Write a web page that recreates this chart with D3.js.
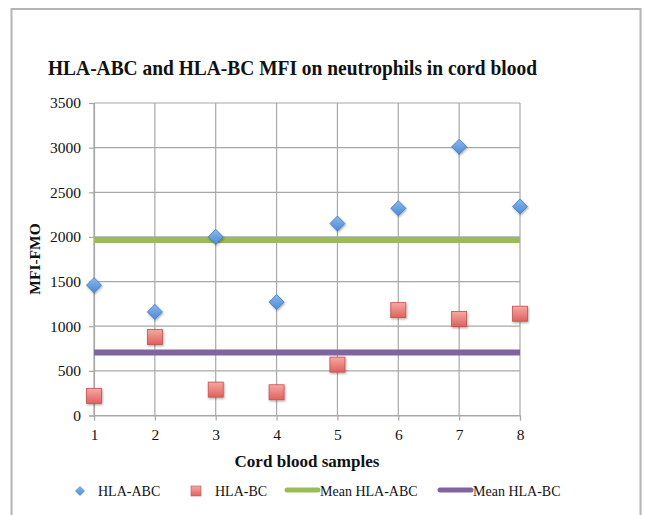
<!DOCTYPE html>
<html>
<head>
<meta charset="utf-8">
<script src="https://cdn.jsdelivr.net/npm/d3@7"></script>
<style>
  html, body { margin: 0; padding: 0; background: #fff; }
  svg { display: block; }
  text { font-family: "Liberation Serif", "DejaVu Serif", serif; fill: #111; }
</style>
</head>
<body>
<div id="chart"></div>
<script>
// Sample numbers along the x axis
const samples = [1, 2, 3, 4, 5, 6, 7, 8];
// MFI minus FMO for each cord blood sample
const hlaABC = [1460, 1160, 2000, 1270, 2150, 2320, 3010, 2340];
const hlaBC = [220, 880, 290, 260, 570, 1180, 1080, 1140];
// Group means drawn as horizontal lines
const meanABC = 1965;
const meanBC = 705;
const yTicks = [0, 500, 1000, 1500, 2000, 2500, 3000, 3500];
const legendLabels = ["HLA-ABC", "HLA-BC", "Mean HLA-ABC", "Mean HLA-BC"];

const W = 645, H = 515;
const svg = d3.select("#chart").append("svg").attr("width", W).attr("height", H);

const defs = svg.append("defs");
const gBlue = defs.append("linearGradient").attr("id", "gBlue").attr("x1", 0).attr("y1", 0).attr("x2", 0).attr("y2", 1);
gBlue.append("stop").attr("offset", "0%").attr("stop-color", "#8ab8ec");
gBlue.append("stop").attr("offset", "100%").attr("stop-color", "#4a8bd6");
const gRed = defs.append("linearGradient").attr("id", "gRed").attr("x1", 0).attr("y1", 0).attr("x2", 0).attr("y2", 1);
gRed.append("stop").attr("offset", "0%").attr("stop-color", "#f6a8a4");
gRed.append("stop").attr("offset", "100%").attr("stop-color", "#e0615c");
const shadow = defs.append("filter").attr("id", "shadow").attr("x", "-50%").attr("y", "-50%").attr("width", "200%").attr("height", "200%");
shadow.append("feDropShadow").attr("dx", 0.8).attr("dy", 1.2).attr("stdDeviation", 0.9)
  .attr("flood-color", "#000").attr("flood-opacity", 0.35);

// Outer chart frame
svg.append("rect").attr("x", 11.5).attr("y", 9).attr("width", 629).attr("height", 520)
  .attr("fill", "none").attr("stroke", "#b4b4b4").attr("stroke-width", 2);

// Title, set in a slightly condensed width
svg.append("text").attr("x", 48).attr("y", 75)
  .attr("font-size", 21).attr("font-weight", "bold")
  .attr("textLength", 489).attr("lengthAdjust", "spacingAndGlyphs")
  .text("HLA-ABC and HLA-BC MFI on neutrophils in cord blood");

const x = d3.scaleLinear().domain([1, 8]).range([94, 520]);
const y = d3.scaleLinear().domain([0, 3500]).range([415.5, 103]);

const grid = svg.append("g").attr("stroke", "#a8a8a8").attr("stroke-width", 1.2);
grid.selectAll("line.h").data(yTicks).join("line").attr("class", "h")
  .attr("x1", x(1)).attr("x2", x(8)).attr("y1", d => y(d)).attr("y2", d => y(d));
grid.selectAll("line.v").data(samples).join("line").attr("class", "v")
  .attr("y1", y(0)).attr("y2", y(3500)).attr("x1", d => x(d)).attr("x2", d => x(d));

// Axes
const yAxis = svg.append("g").attr("transform", `translate(${x(1)},0)`)
  .call(d3.axisLeft(y).tickValues(yTicks).tickSize(5).tickPadding(8).tickFormat(d3.format("d")));
const xAxis = svg.append("g").attr("transform", `translate(0,${y(0)})`)
  .call(d3.axisBottom(x).tickValues(samples).tickSize(5).tickPadding(8).tickFormat(d3.format("d")));
[yAxis, xAxis].forEach(a => {
  a.select(".domain").attr("stroke", "#a8a8a8").attr("stroke-width", 1.2);
  a.selectAll(".tick line").attr("stroke", "#a8a8a8").attr("stroke-width", 1.2);
  a.selectAll(".tick text").attr("font-family", "Liberation Serif, serif").attr("font-size", 15.5).attr("fill", "#111");
});

// Axis titles
svg.append("text").attr("transform", "translate(40,259) rotate(-90)")
  .attr("text-anchor", "middle").attr("font-size", 15.5).attr("font-weight", "bold").text("MFI-FMO");
svg.append("text").attr("x", 307).attr("y", 467)
  .attr("text-anchor", "middle").attr("font-size", 17).attr("font-weight", "bold")
  .attr("textLength", 145).attr("lengthAdjust", "spacingAndGlyphs").text("Cord blood samples");

// Mean lines
svg.append("line").attr("x1", x(1)).attr("x2", x(8)).attr("y1", y(meanABC)).attr("y2", y(meanABC))
  .attr("stroke", "#9bbb59").attr("stroke-width", 6);
svg.append("line").attr("x1", x(1)).attr("x2", x(8)).attr("y1", y(meanBC)).attr("y2", y(meanBC))
  .attr("stroke", "#8064a2").attr("stroke-width", 6);

// Markers
const diamond = s => `M0,${-s}L${s},0L0,${s}L${-s},0Z`;
svg.append("g").selectAll("path").data(samples).join("path")
  .attr("transform", (d, i) => `translate(${x(d)},${y(hlaABC[i])})`)
  .attr("d", diamond(7.5)).attr("fill", "url(#gBlue)").attr("stroke", "#3d78bf").attr("stroke-width", 0.8)
  .attr("filter", "url(#shadow)");
svg.append("g").selectAll("rect").data(samples).join("rect")
  .attr("x", d => x(d) - 7.5).attr("y", (d, i) => y(hlaBC[i]) - 7.5)
  .attr("width", 15).attr("height", 15)
  .attr("fill", "url(#gRed)").attr("stroke", "#c0504d").attr("stroke-width", 0.8)
  .attr("filter", "url(#shadow)");

// Legend
const ly = 491;
const leg = svg.append("g");
leg.append("path").attr("transform", `translate(80,${ly})`).attr("d", diamond(4.5))
  .attr("fill", "url(#gBlue)").attr("stroke", "#3d78bf").attr("stroke-width", 0.6);
leg.append("text").attr("x", 98).attr("y", ly + 5).attr("font-size", 14).text(legendLabels[0]);
leg.append("rect").attr("x", 191).attr("y", ly - 5).attr("width", 10).attr("height", 10)
  .attr("fill", "url(#gRed)").attr("stroke", "#c0504d").attr("stroke-width", 0.6);
leg.append("text").attr("x", 215).attr("y", ly + 5).attr("font-size", 14).text(legendLabels[1]);
leg.append("line").attr("x1", 287).attr("x2", 318).attr("y1", ly - 1).attr("y2", ly - 1)
  .attr("stroke", "#9bbb59").attr("stroke-width", 5).attr("stroke-linecap", "round");
leg.append("text").attr("x", 320).attr("y", ly + 5).attr("font-size", 14).text(legendLabels[2]);
leg.append("line").attr("x1", 440).attr("x2", 471).attr("y1", ly - 1).attr("y2", ly - 1)
  .attr("stroke", "#8064a2").attr("stroke-width", 5).attr("stroke-linecap", "round");
leg.append("text").attr("x", 473).attr("y", ly + 5).attr("font-size", 14).text(legendLabels[3]);
</script>
</body>
</html>
